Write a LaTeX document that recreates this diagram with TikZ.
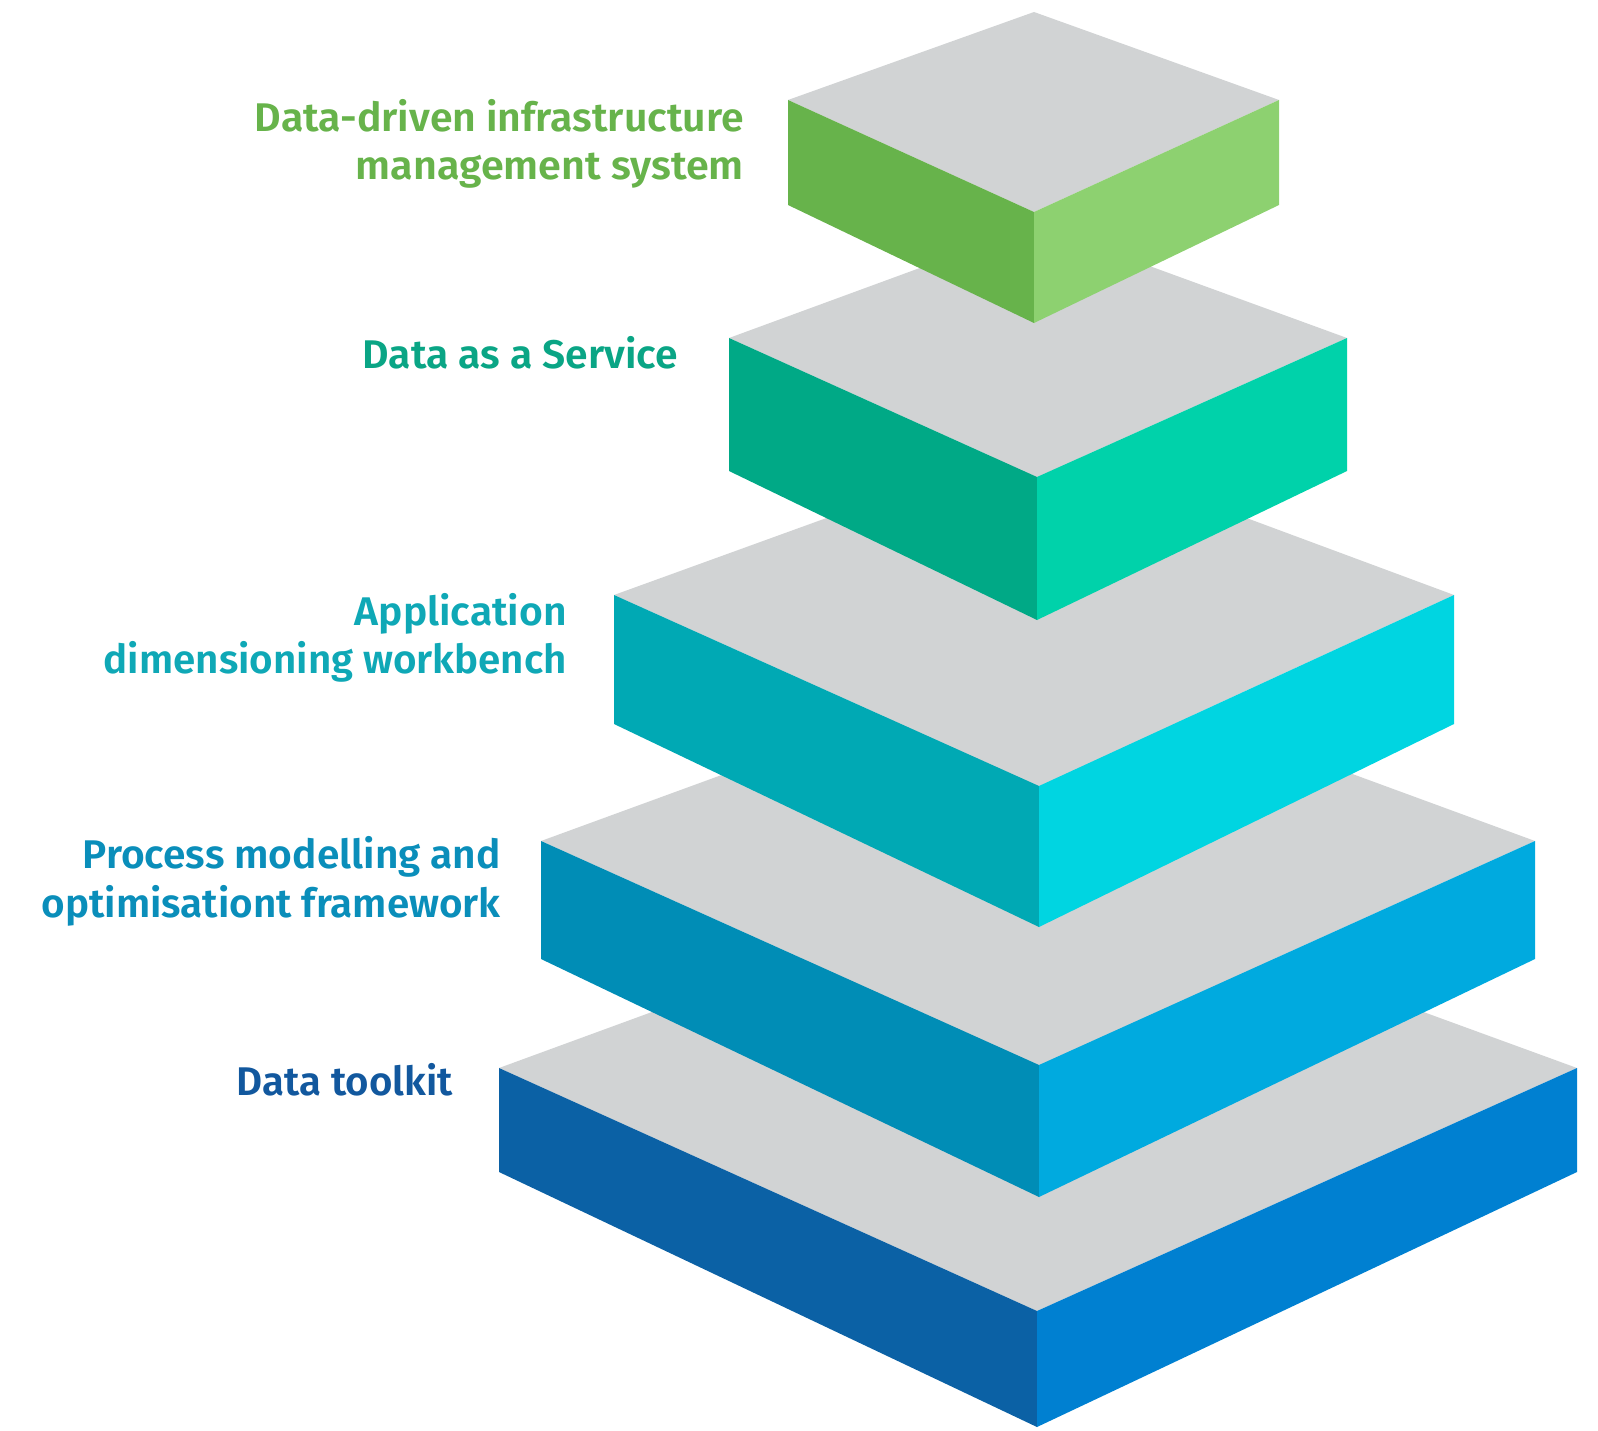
\documentclass[tikz,border=0pt]{standalone}
\usepackage{fontspec}
\usepackage{graphicx}
\setmainfont{Fira Sans}
\newfontfamily\lblfont{Fira Sans}[UprightFont=* SemiBold]
\definecolor{topgray}{HTML}{D1D3D4}
\definecolor{gL5}{HTML}{67B34B}\definecolor{gR5}{HTML}{8DD170}
\definecolor{gL4}{HTML}{00A986}\definecolor{gR4}{HTML}{00D2AA}
\definecolor{gL3}{HTML}{00A9B4}\definecolor{gR3}{HTML}{00D5E1}
\definecolor{gL2}{HTML}{008DB6}\definecolor{gR2}{HTML}{00AADF}
\definecolor{gL1}{HTML}{0B61A5}\definecolor{gR1}{HTML}{0080D1}
\definecolor{t5}{HTML}{67B34B}
\definecolor{t4}{HTML}{0AA585}
\definecolor{t3}{HTML}{0FA8B6}
\definecolor{t2}{HTML}{0A8EBA}
\definecolor{t1}{HTML}{12589E}
\tikzset{
  lbl/.style={anchor=base east, inner sep=0pt, font=\lblfont\fontsize{40}{46}\selectfont},
}
% line of label text stretched to a given width, height kept
\newcommand{\wline}[2]{\resizebox{#1pt}{\height}{#2}}
% block: #1 xl, #2 xr, #3 cx, #4 ytop, #5 ycorner, #6 yfront, #7 hcorner, #8 hfront, #9 colour suffix
\newcommand{\pyrblock}[9]{%
  \fill[topgray] (#1,#5) -- (#3,#4) -- (#2,#5) -- (#3,#6) -- cycle;
  \fill[gL#9] (#1,#5) -- (#3,#6) -- (#3,#6+#8) -- (#1,#5+#7) -- cycle;
  \fill[gR#9] (#2,#5) -- (#3,#6) -- (#3,#6+#8) -- (#2,#5+#7) -- cycle;
}
\begin{document}
\begin{tikzpicture}[x=1pt,y=-1pt]
\useasboundingbox (0,0) rectangle (1598,1431);
\pyrblock{499}{1577}{1037}{871}{1068}{1311}{104}{116}{1}
\pyrblock{541}{1535}{1039}{659}{841}{1065}{118}{132}{2}
\pyrblock{614}{1454}{1039}{441}{595}{786}{129}{141}{3}
\pyrblock{729}{1347}{1037}{225}{338}{477}{133}{143}{4}
\pyrblock{788}{1279}{1034}{12}{100}{212}{105}{111}{5}
\node[lbl, text=t5] (l5a) at (744,132) {\wline{489}{Data-driven infrastructure}};
\node[lbl, text=t5] (l5b) at (744,180) {\wline{388}{management system}};
\node[lbl, text=t4] (l4) at (678,368) {\wline{315}{Data as a Service}};
\node[lbl, text=t3] (l3a) at (567,625) {\wline{212}{Application}};
\node[lbl, text=t3] (l3b) at (567,673) {\wline{463}{dimensioning workbench}};
\node[lbl, text=t2] (l2a) at (501,868) {\wline{418}{Process modelling and}};
\node[lbl, text=t2] (l2b) at (501,917) {\wline{459}{optimisationt framework}};
\node[lbl, text=t1] (l1) at (453,1095) {\wline{216}{Data toolkit}};
\end{tikzpicture}
\end{document}
